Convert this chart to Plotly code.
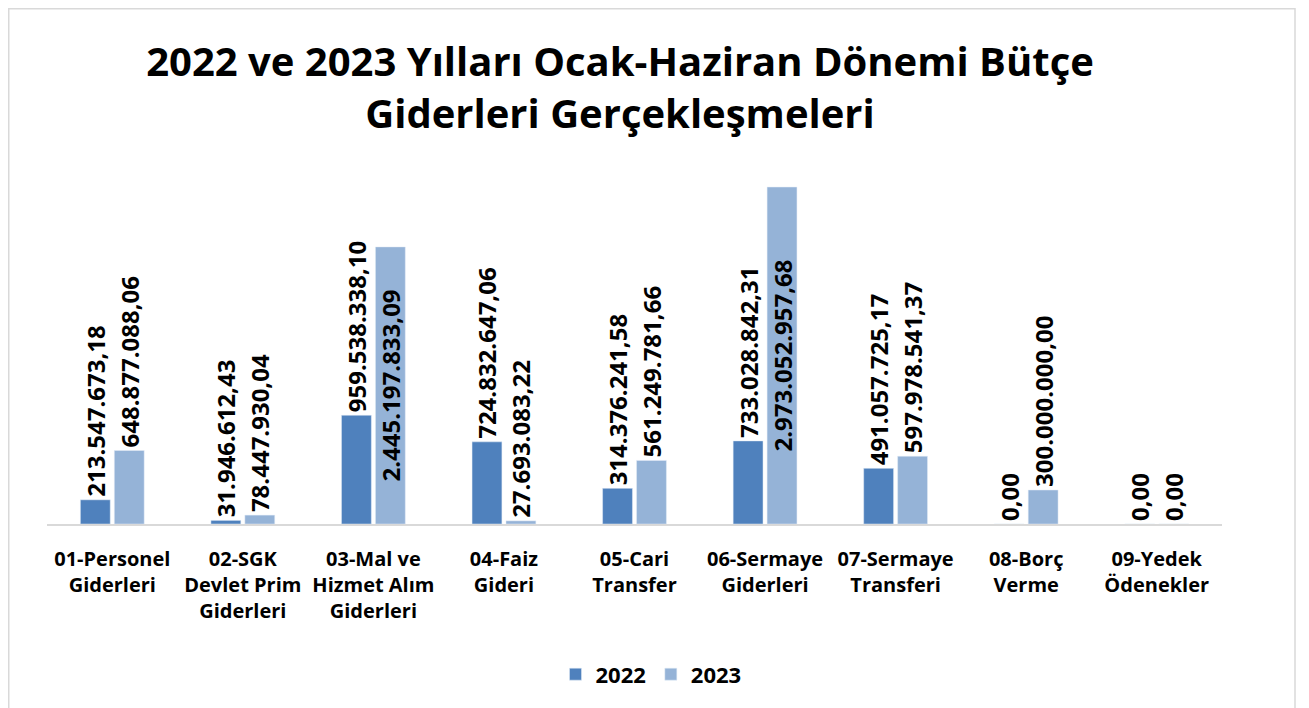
import plotly.graph_objects as go

categories = [
    "01-Personel<br>Giderleri",
    "02-SGK<br>Devlet Prim<br>Giderleri",
    "03-Mal ve<br>Hizmet Alım<br>Giderleri",
    "04-Faiz<br>Gideri",
    "05-Cari<br>Transfer",
    "06-Sermaye<br>Giderleri",
    "07-Sermaye<br>Transferi",
    "08-Borç<br>Verme",
    "09-Yedek<br>Ödenekler",
]
values_2022 = [213547673.18, 31946612.43, 959538338.10, 724832647.06, 314376241.58,
               733028842.31, 491057725.17, 0.00, 0.00]
values_2023 = [648877088.06, 78447930.04, 2445197833.09, 27693083.22, 561249781.66,
               2973052957.68, 597978541.37, 300000000.00, 0.00]


def tr_fmt(v):
    s = f"{v:,.2f}"
    return s.replace(",", "X").replace(".", ",").replace("X", ".")


FONT = "Open Sans"
C2022 = "#4F81BD"
C2023 = "#95B3D7"
W, H = 1301, 700
L, R, T, B = 39, 87, 142, 184
PW, PH = W - L - R, H - T - B

pos_2023 = ["inside" if v > 2e9 else "outside" for v in values_2023]
lab_font = dict(family=FONT, size=24, color="black", weight="bold")

fig = go.Figure()
fig.add_trace(go.Bar(
    name="2022", x=categories, y=values_2022, marker_color=C2022,
    text=[tr_fmt(v) for v in values_2022], textposition="outside",
    textangle=-90, constraintext="none", cliponaxis=False,
    textfont=lab_font, insidetextfont=lab_font, outsidetextfont=lab_font,
))
fig.add_trace(go.Bar(
    name="2023", x=categories, y=values_2023, marker_color=C2023,
    text=[tr_fmt(v) for v in values_2023], textposition=pos_2023,
    insidetextanchor="middle",
    textangle=-90, constraintext="none", cliponaxis=False,
    textfont=lab_font, insidetextfont=lab_font, outsidetextfont=lab_font,
))

fig.update_layout(
    width=W, height=H,
    paper_bgcolor="white", plot_bgcolor="white",
    margin=dict(l=L, r=R, t=T, b=B, autoexpand=False),
    barmode="group", bargap=0.48, bargroupgap=0.12,
    title=dict(
        text="2022 ve 2023 Yılları Ocak-Haziran Dönemi Bütçe<br>Giderleri Gerçekleşmeleri",
        x=612 / W, xanchor="center", y=1 - 68 / H, yanchor="top",
        font=dict(family=FONT, size=40, color="black", weight="bold"),
    ),
    showlegend=True,
    legend=dict(
        orientation="h", x=643 / W, xref="container", xanchor="center",
        y=-0.402, yanchor="middle",
        font=dict(family=FONT, size=22, color="black", weight="bold"),
        itemwidth=30,
    ),
    xaxis=dict(
        showline=True, linecolor="#D9D9D9", linewidth=2,
        showgrid=False, ticks="", ticklabelstandoff=16,
        tickfont=dict(family=FONT, size=20, color="black", weight="bold"),
    ),
    yaxis=dict(range=[0, 3.3e9], visible=False, showgrid=False),
    shapes=[dict(
        type="rect", xref="paper", yref="paper",
        x0=(0.75 - L) / PW, x1=(1287 - L) / PW,
        y0=(H - T + 20 - (H - B - T)) / -PH if False else -(H - T - PH + 20) / PH,
        y1=(PH + T - 0.75) / PH,
        line=dict(color="#D9D9D9", width=1.5), fillcolor="rgba(0,0,0,0)",
        layer="below",
    )],
)

fig.write_html("out.html")
